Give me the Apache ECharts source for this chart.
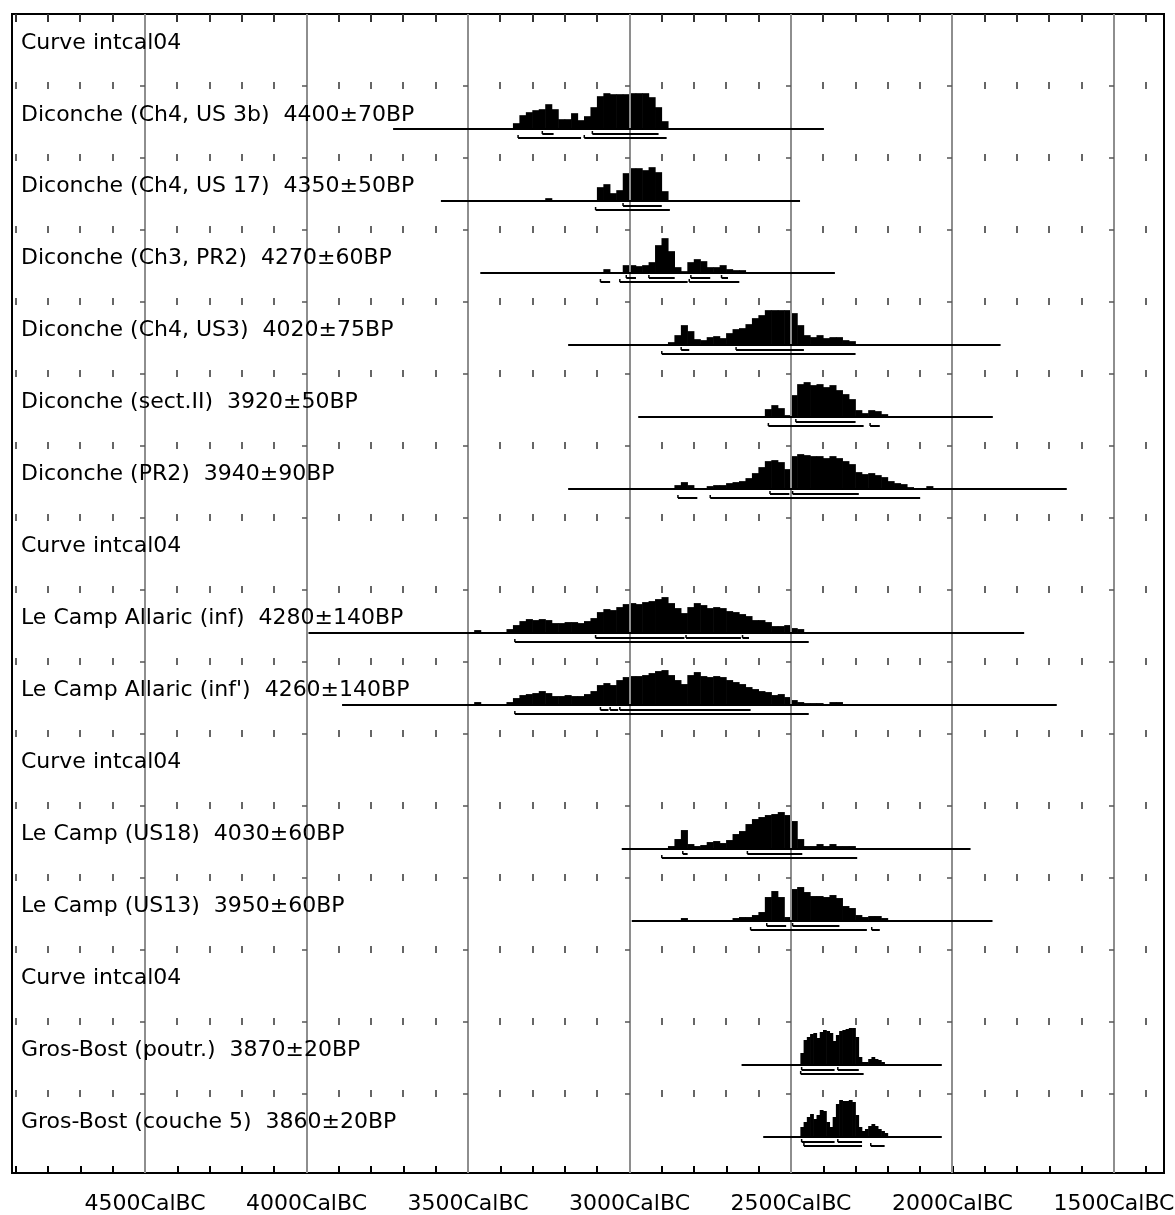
<!DOCTYPE html>
<html><head><meta charset="utf-8">
<script src="https://cdn.jsdelivr.net/npm/echarts@6/dist/echarts.min.js"></script>
<style>html,body{margin:0;padding:0;background:#fff}#c{width:1175px;height:1215px}</style>
</head><body><div id="c"></div>
<script>
// ---------- DATA ----------
const ROW_LABELS = [
  'Curve intcal04',
  'Diconche (Ch4, US 3b)  4400±70BP',
  'Diconche (Ch4, US 17)  4350±50BP',
  'Diconche (Ch3, PR2)  4270±60BP',
  'Diconche (Ch4, US3)  4020±75BP',
  'Diconche (sect.II)  3920±50BP',
  'Diconche (PR2)  3940±90BP',
  'Curve intcal04',
  'Le Camp Allaric (inf)  4280±140BP',
  "Le Camp Allaric (inf')  4260±140BP",
  'Curve intcal04',
  'Le Camp (US18)  4030±60BP',
  'Le Camp (US13)  3950±60BP',
  'Curve intcal04',
  'Gros-Bost (poutr.)  3870±20BP',
  'Gros-Bost (couche 5)  3860±20BP'
];
const GRID_YEARS = [4500, 4000, 3500, 3000, 2500, 2000, 1500];
const LABEL_YEARS = [4500, 4000, 3500, 3000, 2500, 2000, 1500];
const TICK_YEARS = [4900,4800,4700,4600,4500,4400,4300,4200,4100,4000,3900,3800,3700,3600,3500,3400,3300,3200,3100,3000,
                    2900,2800,2700,2600,2500,2400,2300,2200,2100,2000,1900,1800,1700,1600,1500,1400];
const X_RIGHT = 1345, X_LEFT = 4912;   // cal BC range shown

// samples (rows that carry a distribution)
const SAMPLE_ROWS = [1, 2, 3, 4, 5, 6, 8, 9, 11, 12, 14, 15];
const LINE_FROM   = [3732, 3584, 3462, 3190, 2973, 3190, 3994, 3890, 3024, 2993, 2653, 2586];
const LINE_TO     = [2398, 2472, 2364, 1851, 1875, 1646, 1778, 1677, 1944, 1876, 2033, 2033];
const DENS_START  = [3360, 3260, 3080, 2880, 2580, 2880, 3480, 3480, 2880, 2840, 2470, 2470];
const DENS_STEP   = [20, 20, 20, 20, 20, 20, 20, 20, 20, 20, 10, 10];

const D_DIC_US3B  = [6,14,17,19,20,25,20,10,10,16,9,13,22,33,36,35,35,35,36,36,36,32,22,8];
const D_DIC_US17  = [3,0,0,0,0,0,0,0,14,17,8,11,28,33,33,31,34,29,10];
const D_DIC_CH3   = [4,0,0,8,8,7,8,11,28,35,22,6,2,11,14,12,6,6,8,4,3,3];
const D_DIC_US3   = [3,10,20,14,6,5,8,9,7,12,16,17,21,27,30,35,35,35,35,32,20,10,8,10,7,8,8,5,4,1];
const D_DIC_SECT  = [8,12,9,2,22,33,35,32,33,30,32,27,23,18,7,4,7,6,3];
const D_DIC_PR2   = [1,4,7,4,0,1,3,4,4,6,7,8,11,16,22,28,29,27,20,33,35,34,33,33,31,33,31,28,25,17,15,16,14,12,8,6,5,2,0,0,3];
const D_ALL_INF   = [3,0,0,0,0,4,8,12,14,13,14,13,10,10,11,11,10,12,15,21,24,23,26,29,30,29,31,32,34,36,30,25,20,26,30,28,25,26,25,22,21,19,17,13,13,11,7,7,8,5,4];
const D_ALL_INF2  = [3,0,0,0,0,3,7,10,11,12,14,12,9,9,10,9,9,11,14,20,22,20,25,28,29,29,30,32,34,35,30,25,21,30,33,29,28,29,28,25,23,21,18,16,14,13,10,11,8,5,3,2,2,2,0,3,3];
const D_CAMP_US18 = [3,10,19,5,3,4,7,8,6,9,15,18,25,30,32,34,35,37,34,28,10,3,3,5,3,5,3,3,3];
const D_CAMP_US13 = [3,1,0,0,0,0,0,0,3,4,4,6,9,24,30,24,4,32,34,29,25,25,24,26,23,15,13,6,4,5,5,3];
const D_GB_POUTR  = [12,25,28,31,32,27,33,35,34,32,24,30,34,35,36,37,37,28,8,3,3,6,8,6,5,3];
const D_GB_C5     = [10,15,20,23,18,22,27,26,15,10,20,33,37,36,36,37,35,22,10,6,8,11,13,11,8,6,4];
const DENSITIES = [D_DIC_US3B, D_DIC_US17, D_DIC_CH3, D_DIC_US3, D_DIC_SECT, D_DIC_PR2,
                   D_ALL_INF, D_ALL_INF2, D_CAMP_US18, D_CAMP_US13, D_GB_POUTR, D_GB_C5];

// 68.2% (1 sigma) and 95.4% (2 sigma) ranges, cal BC
const SIGMA1 = [
  [[3270,3235],[3115,2910]],
  [[3020,2900]],
  [[3010,2980],[2940,2860],[2810,2750],[2715,2695]],
  [[2840,2815],[2670,2460]],
  [[2485,2300]],
  [[2565,2505],[2495,2290]],
  [[3105,2830],[2825,2655],[2650,2630]],
  [[3090,3065],[3060,3035],[3030,2625]],
  [[2835,2820],[2635,2465]],
  [[2575,2515],[2495,2350]],
  [[2467,2365],[2355,2290]],
  [[2467,2365],[2355,2280]]
];
const SIGMA2 = [
  [[3345,3150],[3140,2885]],
  [[3105,2875]],
  [[3090,3060],[3030,2820],[2815,2660]],
  [[2900,2300]],
  [[2570,2275],[2255,2225]],
  [[2850,2790],[2750,2100]],
  [[3355,2445]],
  [[3355,2445]],
  [[2900,2295]],
  [[2625,2265],[2250,2225]],
  [[2470,2275]],
  [[2460,2280],[2253,2210]]
];

// ---------- LAYOUT ----------
const Y_MAX = 16.1;          // rows (1 row = 72 px)
const BASE_OFF = 0.6;        // baseline position inside a row
const LABEL_OFF = 0.4;
const DENS_SCALE = 1 / 72;   // row units per density unit
const S1_OFF = 5 / 72, S2_OFF = 9 / 72;

// ---------- BUILD SERIES DATA ----------
const densData = [], baseData = [], sigData = [];
SAMPLE_ROWS.forEach((row, s) => {
  baseData.push([LINE_FROM[s], LINE_TO[s], row]);
  DENSITIES[s].forEach((h, i) => {
    const a = DENS_START[s] - i * DENS_STEP[s];
    densData.push([a, a - DENS_STEP[s], row, h]);
  });
  SIGMA1[s].forEach(r => sigData.push([r[0], r[1], row, 1]));
  SIGMA2[s].forEach(r => sigData.push([r[0], r[1], row, 2]));
});
const tickData = [];
for (let k = 0; k < 16; k++) TICK_YEARS.forEach(y => tickData.push([y, y, k]));
const gridData = GRID_YEARS.map(y => [y, y, 0]);
const labelData = ROW_LABELS.map((t, i) => [X_LEFT, X_LEFT, i]);

const chart = echarts.init(document.getElementById('c'), null, {renderer: 'canvas'});

function densItem(params, api) {
  const x0 = api.value(0), x1 = api.value(1), row = api.value(2), h = api.value(3);
  if (!h) return {type: 'group', children: []};
  const yb = row + BASE_OFF;
  const p0 = api.coord([x0, yb]);
  const p1 = api.coord([x1, yb - h * DENS_SCALE]);
  return {
    type: 'rect',
    shape: {x: Math.min(p0[0], p1[0]) - 0.3, y: Math.min(p0[1], p1[1]),
            width: Math.abs(p1[0] - p0[0]) + 0.6, height: Math.abs(p1[1] - p0[1])},
    style: {fill: '#000'}
  };
}
function baseItem(params, api) {
  const yb = api.value(2) + BASE_OFF;
  const p0 = api.coord([api.value(0), yb]), p1 = api.coord([api.value(1), yb]);
  const y = Math.round(p0[1]);
  return {type: 'line', shape: {x1: p0[0], y1: y, x2: p1[0], y2: y}, style: {stroke: '#000', lineWidth: 2}};
}
function sigItem(params, api) {
  const lvl = api.value(3);
  const yv = api.value(2) + BASE_OFF + (lvl === 1 ? S1_OFF : S2_OFF);
  const p0 = api.coord([api.value(0), yv]), p1 = api.coord([api.value(1), yv]);
  const y = Math.round(p0[1]);
  return {type: 'group', children: [
    {type: 'line', shape: {x1: p0[0], y1: y, x2: p1[0], y2: y}, style: {stroke: '#000', lineWidth: 2}},
    {type: 'line', shape: {x1: p0[0], y1: y - 3, x2: p0[0], y2: y}, style: {stroke: '#000', lineWidth: 1.5}}
  ]};
}
function gridItem(params, api) {
  const p0 = api.coord([api.value(0), 0]), p1 = api.coord([api.value(0), Y_MAX]);
  const x = Math.round(p0[0]);
  return {type: 'line', shape: {x1: x, y1: p0[1], x2: x, y2: p1[1]}, style: {stroke: '#8e8e8e', lineWidth: 2}};
}
function tickItem(params, api) {
  const yr = api.value(0), k = api.value(2);
  const p = api.coord([yr, k]);
  const x = Math.round(p[0]), y = Math.round(p[1]);
  if (yr % 500 === 0) {
    if (k === 0) return {type: 'group', children: []};
    return {type: 'line', shape: {x1: x - 5, y1: y, x2: x, y2: y}, style: {stroke: '#555', lineWidth: 1.5}};
  }
  if (k === 0) return {type: 'line', shape: {x1: x, y1: y, x2: x, y2: y + 8}, style: {stroke: '#333', lineWidth: 2}};
  return {type: 'line', shape: {x1: x, y1: y - 4, x2: x, y2: y + 3}, style: {stroke: '#666', lineWidth: 2}};
}
function labelItem(params, api) {
  const i = api.value(2);
  const p = api.coord([api.value(0), i + LABEL_OFF]);
  return {type: 'text', x: params.coordSys.x + 9, y: p[1],
    style: {text: ROW_LABELS[i], fill: '#000', font: '22px "DejaVu Sans"', align: 'left', verticalAlign: 'middle'}};
}

const common = {type: 'custom', coordinateSystem: 'cartesian2d', encode: {x: [0, 1], y: 2}, silent: true, clip: false};
chart.setOption({
  animation: false,
  backgroundColor: '#fff',
  grid: {left: 12, right: 11, top: 14, bottom: 42, show: true, borderColor: '#000', borderWidth: 2,
         backgroundColor: '#fff', containLabel: false, outerBoundsMode: 'none'},
  xAxis: {
    type: 'value', inverse: true, min: X_RIGHT, max: X_LEFT, position: 'bottom',
    axisLine: {show: true, onZero: false, lineStyle: {color: '#000', width: 2}},
    axisTick: {show: true, inside: true, length: 7, customValues: TICK_YEARS, lineStyle: {color: '#000', width: 2}},
    axisLabel: {show: true, customValues: LABEL_YEARS, margin: 20, color: '#000', fontSize: 22,
                fontFamily: 'DejaVu Sans', formatter: v => v + 'CalBC', hideOverlap: false},
    splitLine: {show: false}
  },
  yAxis: {type: 'value', inverse: true, min: 0, max: Y_MAX, show: false, splitLine: {show: false}},
  series: [
    Object.assign({}, common, {name: 'density', z: 2, data: densData, renderItem: densItem}),
    Object.assign({}, common, {name: 'grid', z: 3, data: gridData, renderItem: gridItem}),
    Object.assign({}, common, {name: 'ticks', z: 4, data: tickData, renderItem: tickItem}),
    Object.assign({}, common, {name: 'baseline', z: 5, data: baseData, renderItem: baseItem}),
    Object.assign({}, common, {name: 'ranges', z: 5, data: sigData, renderItem: sigItem}),
    Object.assign({}, common, {name: 'labels', z: 6, data: labelData, renderItem: labelItem})
  ]
});
</script>
</body></html>
